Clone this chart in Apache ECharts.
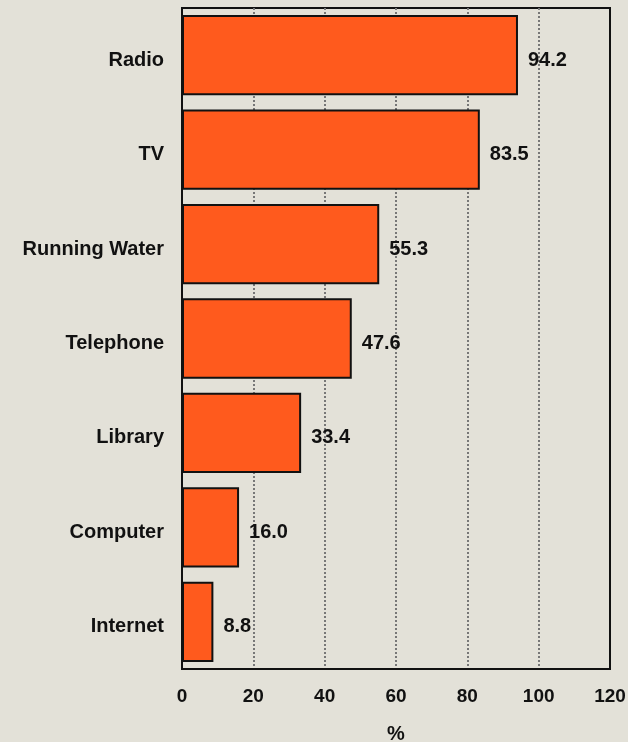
<!DOCTYPE html>
<html>
<head>
<meta charset="utf-8">
<script src="https://cdn.jsdelivr.net/npm/echarts@6/dist/echarts.min.js"></script>
<style>
html,body{margin:0;padding:0;background:#E3E1D8;}
#c{width:628px;height:742px;}
</style>
</head>
<body>
<div id="c"></div>
<script>
const categories = ['Radio','TV','Running Water','Telephone','Library','Computer','Internet'];
const values = [94.2, 83.5, 55.3, 47.6, 33.4, 16.0, 8.8];
const xTicks = [0, 20, 40, 60, 80, 100, 120];
const axisName = '%';

const chart = echarts.init(document.getElementById('c'), null, {renderer:'canvas'});
const font = 'Liberation Sans, Arial, sans-serif';
chart.setOption({
  backgroundColor: '#E3E1D8',
  animation: false,
  grid: {left:182, top:8, right:18, bottom:73, outerBoundsMode:'none', containLabel:false,
    show:true, borderColor:'#111', borderWidth:2, backgroundColor:'transparent'},
  xAxis: {
    type:'value', min:xTicks[0], max:xTicks[xTicks.length-1], interval:20,
    name: axisName, nameLocation:'middle', nameGap:55,
    nameTextStyle:{fontFamily:font, fontWeight:'bold', fontSize:20, color:'#111'},
    axisLine:{show:true, lineStyle:{color:'#111', width:2}},
    axisTick:{show:false},
    axisLabel:{fontFamily:font, fontWeight:'bold', fontSize:19, color:'#111', margin:18},
    splitLine:{show:true, showMinLine:false, showMaxLine:false, lineStyle:{color:'#777', width:2, type:[2,2]}}
  },
  yAxis: {
    type:'category', data:categories, inverse:true,
    axisLine:{show:true, lineStyle:{color:'#111', width:2}},
    axisTick:{show:false},
    axisLabel:{margin:18, formatter: v => '{a|' + v + '}',
      rich:{a:{fontFamily:font, fontWeight:'bold', fontSize:20, color:'#111', padding:[10,0,0,0]}}},
    splitLine:{show:false}
  },
  series: [{
    type:'bar', data:values, barCategoryGap:'15%',
    itemStyle:{color:'#FF5A1D', borderColor:'#111', borderWidth:2},
    label:{show:true, position:'right', distance:10, offset:[0,5], fontFamily:font, fontWeight:'bold', fontSize:20, color:'#111',
      formatter: p => p.value.toFixed(1)}
  }]
});
</script>
</body>
</html>
